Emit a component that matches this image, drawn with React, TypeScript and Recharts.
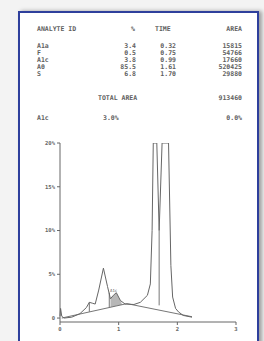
import { ComposedChart, Line, Area, XAxis, YAxis } from "recharts"

// report table
const headers = ["ANALYTE ID", "%", "TIME", "AREA"]
const analytes = ["A1a", "F", "A1c", "A0", "S"]
const percents = ["3.4", "0.5", "3.8", "85.5", "6.8"]
const times = ["0.32", "0.75", "0.99", "1.61", "1.70"]
const areas = ["15815", "54766", "17660", "520425", "29880"]
const totalArea = "913460"
const summary = ["A1c", "3.0%", "0.0%"]

// chromatogram (time in min, signal in %)
const times_t = [0, 0.01, 0.03, 0.07, 0.2, 0.34, 0.45, 0.5, 0.55, 0.6, 0.66, 0.74, 0.81, 0.86, 0.91, 0.96, 1.03, 1.11, 1.26, 1.37, 1.49, 1.54, 1.57, 1.59, 1.65, 1.69, 1.74, 1.85, 1.89, 1.92, 1.97, 2.02, 2.1, 2.25]
const signal = [0.2, 1.1, 0.2, 0, 0.1, 0.5, 1.2, 1.8, 1.7, 1.6, 3.2, 5.7, 3.6, 2.2, 2.6, 2.9, 2.0, 1.6, 1.55, 1.8, 2.6, 3.9, 10, 20, 20, 10, 20, 20, 6, 2.4, 1.1, 0.7, 0.3, 0.1]

const baseT = [0.03, 1.14, 2.25]
const baseV = [0, 1.65, 0.15]

const dropT = [0.5, 0.84, 1.69]
const dropLow = [0.72, 1.22, 1.45]
const dropHigh = [1.8, 2.9, 10]

const shadeT = [0.86, 0.91, 0.96, 1.03, 1.06]
const shadeLow = [1.25, 1.33, 1.4, 1.5, 1.55]
const shadeHigh = [2.2, 2.6, 2.9, 2.0, 1.55]

const xTicks = [0, 1, 2, 3]
const yTicks = [0, 5, 10, 15, 20]

const curve = times_t.map((t, i) => ({ t, v: signal[i] }))
const baseline = baseT.map((t, i) => ({ t, v: baseV[i] }))
const drops = dropT.map((t, i) => [
  { t, v: dropLow[i] },
  { t, v: dropHigh[i] },
])
const shade = shadeT.map((t, i) => ({ t, r: [shadeLow[i], shadeHigh[i]] }))

const ink = "#666"
const txt = {
  position: "absolute" as const,
  fontFamily: "'DejaVu Sans Mono', monospace",
  fontSize: 6.5,
  fontWeight: 700,
  color: "#5e5e5e",
  whiteSpace: "nowrap" as const,
  lineHeight: "7px",
}

const rowY = [43, 50, 57, 64, 71]

export default function App() {
  return (
    <div
      style={{
        position: "absolute",
        left: 0,
        top: 0,
        width: 264,
        height: 341,
        background: "#f3f3f3",
        overflow: "hidden",
      }}
    >
      {/* paper with blue frame */}
      <div
        style={{
          position: "absolute",
          left: 18,
          top: 11,
          width: 237,
          height: 340,
          background: "#fff",
          border: "2px solid #2e3f9c",
          boxShadow: "3px 0 4px rgba(0,0,0,0.35)",
        }}
      />

      {/* table */}
      <div style={{ ...txt, left: 37, top: 26 }}>{headers[0]}</div>
      <div style={{ ...txt, left: 120, top: 26, width: 15, textAlign: "right" }}>{headers[1]}</div>
      <div style={{ ...txt, left: 155, top: 26 }}>{headers[2]}</div>
      <div style={{ ...txt, left: 200, top: 26, width: 42, textAlign: "right" }}>{headers[3]}</div>
      {analytes.map((a, i) => (
        <div key={a + i}>
          <div style={{ ...txt, left: 37, top: rowY[i] }}>{a}</div>
          <div style={{ ...txt, left: 110, top: rowY[i], width: 26, textAlign: "right" }}>{percents[i]}</div>
          <div style={{ ...txt, left: 150, top: rowY[i], width: 26, textAlign: "right" }}>{times[i]}</div>
          <div style={{ ...txt, left: 200, top: rowY[i], width: 42, textAlign: "right" }}>{areas[i]}</div>
        </div>
      ))}
      <div style={{ ...txt, left: 98, top: 95 }}>TOTAL AREA</div>
      <div style={{ ...txt, left: 200, top: 95, width: 42, textAlign: "right" }}>{totalArea}</div>
      <div style={{ ...txt, left: 37, top: 115 }}>{summary[0]}</div>
      <div style={{ ...txt, left: 103, top: 115 }}>{summary[1]}</div>
      <div style={{ ...txt, left: 200, top: 115, width: 42, textAlign: "right" }}>{summary[2]}</div>

      {/* chromatogram */}
      <div style={{ position: "absolute", left: 0, top: 0 }}>
        <ComposedChart
          width={264}
          height={341}
          data={curve}
          margin={{ top: 143, right: 28, bottom: 4, left: 30 }}
        >
          <XAxis
            dataKey="t"
            type="number"
            domain={[0, 3]}
            ticks={xTicks}
            height={15}
            stroke={ink}
            tickSize={3}
            tick={{ fontSize: 5.5, fill: "#666", fontFamily: "DejaVu Sans Mono", fontWeight: 700 }}
          />
          <YAxis
            type="number"
            domain={[-0.45, 20]}
            ticks={yTicks}
            allowDataOverflow
            width={30}
            stroke={ink}
            tickSize={3}
            tickFormatter={(v) => (v === 0 ? "0" : `${v}%`)}
            tick={{ fontSize: 5.5, fill: "#666", fontFamily: "DejaVu Sans Mono", fontWeight: 700 }}
          />
          <Area
            data={shade}
            dataKey="r"
            type="linear"
            stroke="none"
            fill="#999"
            fillOpacity={0.7}
            isAnimationActive={false}
          />
          <Line
            data={baseline}
            dataKey="v"
            type="linear"
            stroke={ink}
            strokeWidth={0.9}
            dot={false}
            isAnimationActive={false}
          />
          {drops.map((d, i) => (
            <Line
              key={i}
              data={d}
              dataKey="v"
              type="linear"
              stroke={ink}
              strokeWidth={0.9}
              dot={false}
              isAnimationActive={false}
            />
          ))}
          <Line
            dataKey="v"
            type="linear"
            stroke={ink}
            strokeWidth={1}
            dot={false}
            isAnimationActive={false}
          />
        </ComposedChart>
      </div>
      <div style={{ ...txt, fontSize: 4, fontWeight: 400, left: 110, top: 287 }}>A1c</div>
    </div>
  )
}
